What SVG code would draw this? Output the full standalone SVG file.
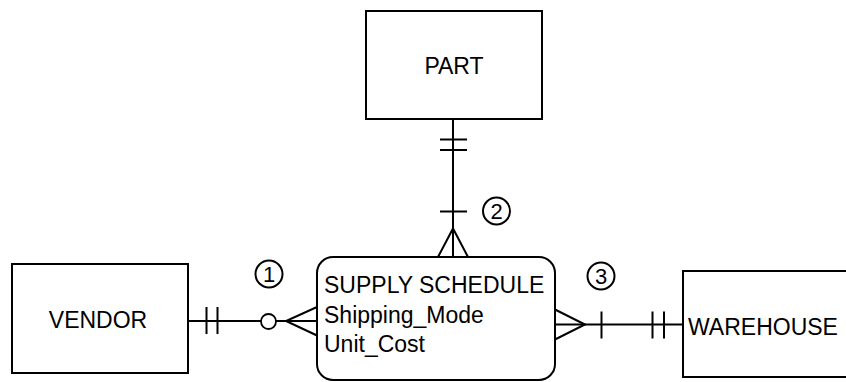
<svg xmlns="http://www.w3.org/2000/svg" width="846" height="382" viewBox="0 0 846 382">
<style>
  .box { fill: #fff; stroke: #000; stroke-width: 2; }
  .lbl { font-family: "Liberation Sans", Arial, sans-serif; font-size: 23px; fill: #000; }
  .ln { stroke: #000; stroke-width: 2; fill: none; }
  .tk { stroke: #000; stroke-width: 2; fill: none; }
  .num { fill: none; stroke: #000; stroke-width: 2; }
  .numt { font-family: "Liberation Sans", Arial, sans-serif; font-size: 22px; fill: #000; text-anchor: middle; }
</style>
<rect width="846" height="382" fill="#fff"/>
<g id="connectors">
  <!-- PART to SUPPLY SCHEDULE -->
  <line class="ln" x1="453" y1="119" x2="453" y2="257"/>
  <line class="tk" x1="440" y1="139.5" x2="467" y2="139.5"/>
  <line class="tk" x1="440" y1="150" x2="467" y2="150"/>
  <line class="tk" x1="440" y1="211.5" x2="467" y2="211.5" stroke-width="1.5"/>
  <polyline class="ln" points="438,257 453,228.5 468,257"/>
  <!-- VENDOR to SUPPLY SCHEDULE -->
  <line class="ln" x1="188" y1="321" x2="317" y2="321"/>
  <line class="tk" x1="206.5" y1="307" x2="206.5" y2="334"/>
  <line class="tk" x1="217.5" y1="307" x2="217.5" y2="334"/>
  <circle cx="268.5" cy="321.5" r="7.5" fill="#fff" stroke="#000" stroke-width="1.8"/>
  <polyline class="ln" points="317,307 286,321 317,335.5"/>
  <!-- SUPPLY SCHEDULE to WAREHOUSE -->
  <line class="ln" x1="555" y1="324.5" x2="683" y2="324.5"/>
  <polyline class="ln" points="555,309.5 585,324.5 555,339.5"/>
  <line class="tk" x1="601.5" y1="311.5" x2="601.5" y2="338.5" stroke-width="1.5"/>
  <line class="tk" x1="652.5" y1="311.5" x2="652.5" y2="338.5"/>
  <line class="tk" x1="664" y1="311.5" x2="664" y2="338.5"/>
  <!-- relationship numbers -->
  <g id="rel1">
    <circle class="num" cx="269" cy="274" r="13.5"/>
    <text class="numt" x="269" y="282">1</text>
  </g>
  <g id="rel2">
    <circle class="num" cx="496.5" cy="211" r="13.5"/>
    <text class="numt" x="496.5" y="219">2</text>
  </g>
  <g id="rel3">
    <circle class="num" cx="601" cy="276" r="13.5"/>
    <text class="numt" x="601" y="284">3</text>
  </g>
</g>
<g id="part">
  <rect class="box" x="366" y="11" width="176" height="108"/>
  <text class="lbl" x="454" y="74" text-anchor="middle">PART</text>
</g>
<g id="vendor">
  <rect class="box" x="12" y="264" width="176" height="109"/>
  <text class="lbl" x="98" y="328" text-anchor="middle">VENDOR</text>
</g>
<g id="supply-schedule">
  <rect class="box" x="317" y="257" width="238" height="123" rx="16" ry="16"/>
  <text class="lbl" x="324" y="293">SUPPLY SCHEDULE</text>
  <text class="lbl" x="324" y="322.5">Shipping_Mode</text>
  <text class="lbl" x="324" y="352">Unit_Cost</text>
</g>
<g id="warehouse">
  <rect class="box" x="683" y="271" width="200" height="106"/>
  <text class="lbl" x="688" y="335">WAREHOUSE</text>
</g>
</svg>
